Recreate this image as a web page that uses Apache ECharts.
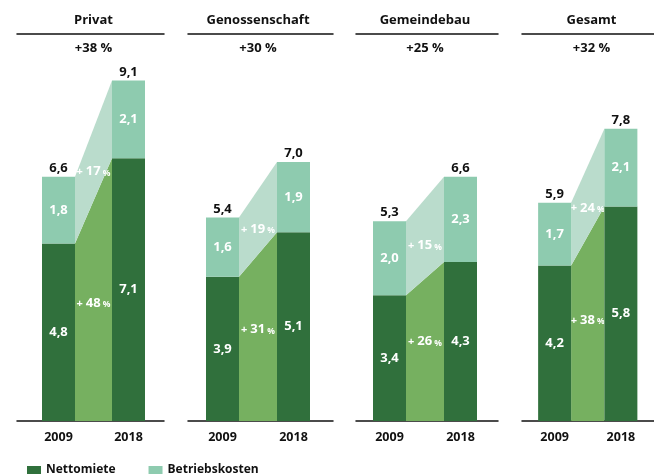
<!DOCTYPE html>
<html>
<head>
<meta charset="utf-8">
<script src="https://cdn.jsdelivr.net/npm/echarts@6/dist/echarts.min.js"></script>
<style>
  html, body { margin: 0; padding: 0; background: #fff; }
  #chart { width: 654px; height: 476px; }
</style>
</head>
<body>
<div id="chart"></div>
<script>
// Wohnkosten je m², 2009 vs. 2018, nach Segment
const panels = ['Privat', 'Genossenschaft', 'Gemeindebau', 'Gesamt'];
const totalChange = ['+38 %', '+30 %', '+25 %', '+32 %'];
const years = ['2009', '2018'];
const netRent2009 = [4.8, 3.9, 3.4, 4.2];
const netRent2018 = [7.1, 5.1, 4.3, 5.8];
const opCost2009 = [1.8, 1.6, 2.0, 1.7];
const opCost2018 = [2.1, 1.9, 2.3, 2.1];
const total2009 = [6.6, 5.4, 5.3, 5.9];
const total2018 = [9.1, 7.0, 6.6, 7.8];
const netRentChange = [48, 31, 26, 38];
const opCostChange = [17, 19, 15, 24];

const C_NET = '#30703c';
const C_NET_GROWTH = '#76b060';
const C_OP = '#8ecbaf';
const C_OP_GROWTH = '#badccc';
const INK = '#111111';
const FONT = '"Open Sans", Lato, sans-serif';
const BAR_W = 33;

// panel placement: bar grids, and the wider frame carrying the rules
const gridLeft = [23.5, 187, 354, 521.5];
const gridWidth = [140, 142, 142, 140];
const ruleLeft = [17, 188, 356, 522];
const ruleWidth = [147, 145, 142, 142];
const GRID_TOP = 51;
const GRID_BOTTOM = 55;

const fmt = v => v.toFixed(1).replace('.', ',');

const grid = [], xAxis = [], yAxis = [], series = [], title = [];

panels.forEach((name, i) => {
  const cx = gridLeft[i] + gridWidth[i] / 2;
  title.push({
    text: name, left: cx, textAlign: 'center', top: 14, padding: 0,
    textStyle: { fontFamily: FONT, fontSize: 13, fontWeight: 'bold', color: INK }
  });
  title.push({
    text: totalChange[i], left: cx, textAlign: 'center', top: 42, padding: 0,
    textStyle: { fontFamily: FONT, fontSize: 13, fontWeight: 'bold', color: INK }
  });

  // frame grid: baseline and heading rule
  const g = grid.length;
  grid.push({ left: ruleLeft[i], width: ruleWidth[i], top: GRID_TOP, bottom: GRID_BOTTOM });
  const rule = extra => Object.assign({
    type: 'value', gridIndex: g, min: 0, max: 1,
    axisLine: { onZero: false, lineStyle: { color: INK, width: 1.5 } },
    axisTick: { show: false }, axisLabel: { show: false }, splitLine: { show: false }
  }, extra);
  xAxis.push(rule({ position: 'bottom' }));
  xAxis.push(rule({ position: 'top', offset: 17 }));
  yAxis.push({ type: 'value', gridIndex: g, min: 0, max: 1, show: false });

  // bar grid
  const b = grid.length;
  grid.push({ left: gridLeft[i], width: gridWidth[i], top: GRID_TOP, bottom: GRID_BOTTOM });
  const xi = xAxis.length;
  xAxis.push({
    type: 'category', gridIndex: b, data: years,
    axisLine: { show: false },
    axisTick: { show: false },
    axisLabel: { color: INK, fontFamily: FONT, fontSize: 12.5, fontWeight: 'bold', margin: 10 }
  });
  const yi = yAxis.length;
  yAxis.push({ type: 'value', gridIndex: b, min: 0, max: 10, show: false });

  const stackId = 'stack' + i;
  const inBarLabel = { show: true, position: 'inside', color: '#fff', fontFamily: FONT,
                       fontSize: 13, fontWeight: 'bold', formatter: p => fmt(p.value) };
  series.push({
    name: 'Nettomiete', type: 'bar', xAxisIndex: xi, yAxisIndex: yi, stack: stackId,
    barWidth: BAR_W, itemStyle: { color: C_NET },
    data: [netRent2009[i], netRent2018[i]], label: inBarLabel
  });
  series.push({
    name: 'Betriebskosten', type: 'bar', xAxisIndex: xi, yAxisIndex: yi, stack: stackId,
    barWidth: BAR_W, itemStyle: { color: C_OP },
    data: [opCost2009[i], opCost2018[i]], label: inBarLabel
  });
  // growth wedges between the two bars, plus totals above the stacks
  series.push({
    type: 'custom', xAxisIndex: xi, yAxisIndex: yi, clip: false, silent: true,
    encode: { x: 0, y: 1 },
    data: [[0, netRent2009[i], netRent2018[i],
            netRent2009[i] + opCost2009[i], netRent2018[i] + opCost2018[i],
            netRentChange[i], opCostChange[i], total2009[i], total2018[i]]],
    renderItem: (params, api) => {
      const n0 = api.value(1), n1 = api.value(2), t0 = api.value(3), t1 = api.value(4);
      const base0 = api.coord([0, 0]), base1 = api.coord([1, 0]);
      const xa = base0[0] + BAR_W / 2, xb = base1[0] - BAR_W / 2;
      const yb = base0[1];
      const yN0 = api.coord([0, n0])[1], yN1 = api.coord([1, n1])[1];
      const yT0 = api.coord([0, t0])[1], yT1 = api.coord([1, t1])[1];
      const xm = (xa + xb) / 2;
      const pctText = v => ({
        text: '{p|+ }{a|' + v + '}{b| %}',
        rich: {
          p: { fontFamily: FONT, fontSize: 11, fontWeight: 'bold', fill: '#fff', padding: [1, 0, 0, 0] },
          a: { fontFamily: FONT, fontSize: 13, fontWeight: 'bold', fill: '#fff' },
          b: { fontFamily: FONT, fontSize: 8.5, fontWeight: 'bold', fill: '#fff', padding: [3, 0, 0, 0] }
        },
        align: 'center', verticalAlign: 'middle'
      });
      const totalStyle = t => ({ text: fmt(t), fontFamily: FONT, fontSize: 13, fontWeight: 'bold',
                                 fill: INK, align: 'center', verticalAlign: 'bottom' });
      return {
        type: 'group',
        children: [
          { type: 'polygon', shape: { points: [[xa, yb], [xa, yN0], [xb, yN1], [xb, yb]] },
            style: { fill: C_NET_GROWTH } },
          { type: 'polygon', shape: { points: [[xa, yN0], [xa, yT0], [xb, yT1], [xb, yN1]] },
            style: { fill: C_OP_GROWTH } },
          { type: 'text', x: xm, y: (2 * yb + yN0 + yN1) / 4 - 8, style: pctText(api.value(5)) },
          { type: 'text', x: xm, y: (yN0 + yN1 + yT0 + yT1) / 4 + 7, style: pctText(api.value(6)) },
          { type: 'text', x: base0[0], y: yT0 - 2, style: totalStyle(api.value(7)) },
          { type: 'text', x: base1[0], y: yT1 - 2, style: totalStyle(api.value(8)) }
        ]
      };
    }
  });
});

const chart = echarts.init(document.getElementById('chart'), null, { renderer: 'canvas' });
chart.setOption({
  animation: false,
  backgroundColor: '#fff',
  title,
  grid, xAxis, yAxis, series,
  legend: {
    data: ['Nettomiete', 'Betriebskosten'],
    left: 27, top: 464, itemWidth: 14, itemHeight: 8, itemGap: 33,
    icon: 'rect', selectedMode: false, padding: 0,
    textStyle: { fontFamily: FONT, fontSize: 12, color: INK, fontWeight: 'bold' }
  }
});
</script>
</body>
</html>
